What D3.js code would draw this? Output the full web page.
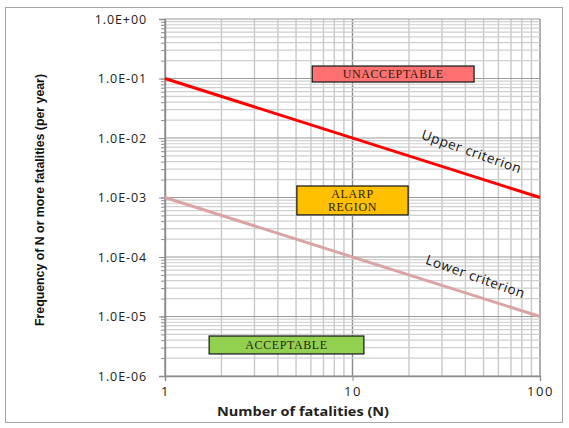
<!DOCTYPE html>
<html>
<head>
<meta charset="utf-8">
<script src="https://cdn.jsdelivr.net/npm/d3@7"></script>
<style>
  body { margin: 0; background: #fff; }
  svg { display: block; }
</style>
</head>
<body>
<div id="chart"></div>
<script>
// Chart constants
const WIDTH = 569;
const HEIGHT = 428;
const MARGIN = { left: 165, right: 29, top: 19, bottom: 52 };

// Data
const fatalities = [1, 100];
const upperCriterion = [1e-1, 1e-3];
const lowerCriterion = [1e-3, 1e-5];
const xTickValues = [1, 10, 100];
const yTickValues = [1, 1e-1, 1e-2, 1e-3, 1e-4, 1e-5, 1e-6];

// Region boxes (in data units)
const regionLabels = [["UNACCEPTABLE"], ["ALARP", "REGION"], ["ACCEPTABLE"]];
const regionN = [[6.1, 44.5], [5.05, 19.8], [1.72, 11.5]];
const regionFreq = [[0.162, 0.0873], [1.56e-3, 5.1e-4], [4.7e-6, 2.35e-6]];
const regionColors = ["#ff7171", "#ffc000", "#92d050"];

setup();

function fmtExp (v) {
  const e = Math.round(Math.log10(v));
  const s = e < 0 ? "-" : "+";
  return "1.0E" + s + String(Math.abs(e)).padStart(2, "0");
}

function setup () {
  const svg = d3.select("#chart").append("svg")
    .attr("width", WIDTH).attr("height", HEIGHT);

  // outer frame
  svg.append("rect")
    .attr("x", 5.5).attr("y", 7.5).attr("width", 557).attr("height", 415)
    .attr("fill", "#fff").attr("stroke", "#a6a6a6");

  const x = d3.scaleLog().domain([1, 100]).range([MARGIN.left, WIDTH - MARGIN.right]);
  const y = d3.scaleLog().domain([1e-6, 1]).range([HEIGHT - MARGIN.bottom, MARGIN.top]);

  // minor + major values
  const xAll = [];
  for (let d = 1; d < 100; d *= 10) for (let k = 1; k < 10; k++) xAll.push(d * k);
  xAll.push(100);
  const yAll = [];
  for (let d = 1e-6; d < 1; d *= 10) for (let k = 1; k < 10; k++) yAll.push(d * k);
  yAll.push(1);

  const grid = svg.append("g").classed("grid", true);
  grid.selectAll("line.vx").data(xAll).join("line")
    .attr("x1", d => x(d)).attr("x2", d => x(d))
    .attr("y1", y(1)).attr("y2", y(1e-6))
    .attr("stroke", d => xTickValues.includes(d) ? "#8c8c8c" : "#c8c8c8")
    .attr("stroke-width", 1.4);
  grid.selectAll("line.hy").data(yAll).join("line")
    .attr("x1", x(1)).attr("x2", x(100))
    .attr("y1", d => y(d)).attr("y2", d => y(d))
    .attr("stroke", d => yTickValues.some(t => Math.abs(t - d) / t < 1e-9) ? "#9a9a9a" : "#cfcfcf")
    .attr("stroke-width", 1.2);

  // axes
  const yAxis = d3.axisLeft(y).tickValues(yTickValues).tickFormat(fmtExp).tickSize(6).tickPadding(12);
  const gy = svg.append("g").attr("transform", `translate(${MARGIN.left},0)`).call(yAxis);
  const yMinor = d3.axisLeft(y).tickValues(yAll).tickFormat("").tickSize(4);
  svg.append("g").attr("transform", `translate(${MARGIN.left},0)`).call(yMinor)
    .select(".domain").remove();
  const xAxis = d3.axisBottom(x).tickValues(xTickValues).tickFormat(d3.format("d")).tickSize(5).tickPadding(6);
  const gx = svg.append("g").attr("transform", `translate(0,${HEIGHT - MARGIN.bottom})`).call(xAxis);
  [gx, gy].forEach(g => {
    g.select(".domain").attr("stroke", "#8c8c8c").attr("stroke-width", 1.4);
    g.selectAll("text").attr("fill", "#222")
      .style("font-family", "'Open Sans', sans-serif").style("font-size", "12.5px")
      .style("letter-spacing", "0.9px");
  });
  svg.selectAll(".tick line").attr("stroke", "#8c8c8c");
  gx.selectAll("text").style("font-size", "13px").style("letter-spacing", "1.5px");

  // criterion lines
  const line = d3.line().x(d => x(d[0])).y(d => y(d[1]));
  svg.append("path").datum(fatalities.map((n, i) => [n, lowerCriterion[i]]))
    .attr("d", line).attr("fill", "none").attr("stroke", "#d9a4a4").attr("stroke-width", 3);
  svg.append("path").datum(fatalities.map((n, i) => [n, upperCriterion[i]]))
    .attr("d", line).attr("fill", "none").attr("stroke", "#ff0000").attr("stroke-width", 3);

  // region boxes
  const boxes = svg.selectAll("g.region").data(regionLabels).join("g").classed("region", true);
  boxes.append("rect")
    .attr("x", (d, i) => x(regionN[i][0]))
    .attr("y", (d, i) => y(regionFreq[i][0]))
    .attr("width", (d, i) => x(regionN[i][1]) - x(regionN[i][0]))
    .attr("height", (d, i) => y(regionFreq[i][1]) - y(regionFreq[i][0]))
    .attr("fill", (d, i) => regionColors[i])
    .attr("stroke", "#222").attr("stroke-width", 1.3);
  boxes.each(function (lines, i) {
    const cx = (x(regionN[i][0]) + x(regionN[i][1])) / 2;
    const cy = (y(regionFreq[i][0]) + y(regionFreq[i][1])) / 2;
    const t = d3.select(this).append("text")
      .attr("text-anchor", "middle")
      .style("font-family", "'Liberation Serif', 'DejaVu Serif', serif")
      .style("font-size", "12px").style("letter-spacing", "0.6px").attr("fill", "#2b1d0a");
    lines.forEach((s, k) => {
      t.append("tspan").attr("x", cx)
        .attr("y", cy + 4 + (k - (lines.length - 1) / 2) * 12.5)
        .text(s);
    });
  });

  // criterion labels
  const crit = [["Upper criterion", 470, 156], ["Lower criterion", 474, 281]];
  svg.selectAll("text.crit").data(crit).join("text").classed("crit", true)
    .attr("transform", d => `translate(${d[1]},${d[2]}) rotate(19.5)`)
    .attr("text-anchor", "middle")
    .style("font-family", "'Open Sans', sans-serif").style("font-size", "13.5px")
    .style("letter-spacing", "0.6px")
    .attr("fill", "#111").text(d => d[0]);

  // axis titles
  svg.append("text")
    .attr("transform", `translate(44,200) rotate(-90)`)
    .attr("text-anchor", "middle")
    .attr("textLength", 252).attr("lengthAdjust", "spacingAndGlyphs")
    .style("font-family", "'Liberation Sans Narrow', 'Liberation Sans', sans-serif")
    .style("font-weight", "bold").style("font-size", "12px").attr("fill", "#111")
    .text("Frequency of N or more fatalities  (per year)");
  svg.append("text")
    .attr("x", 303).attr("y", 416)
    .attr("text-anchor", "middle")
    .attr("textLength", 172).attr("lengthAdjust", "spacingAndGlyphs")
    .style("font-family", "'Open Sans', sans-serif")
    .style("font-weight", "bold").style("font-size", "13px").attr("fill", "#222")
    .text("Number of fatalities (N)");
}
</script>
</body>
</html>
